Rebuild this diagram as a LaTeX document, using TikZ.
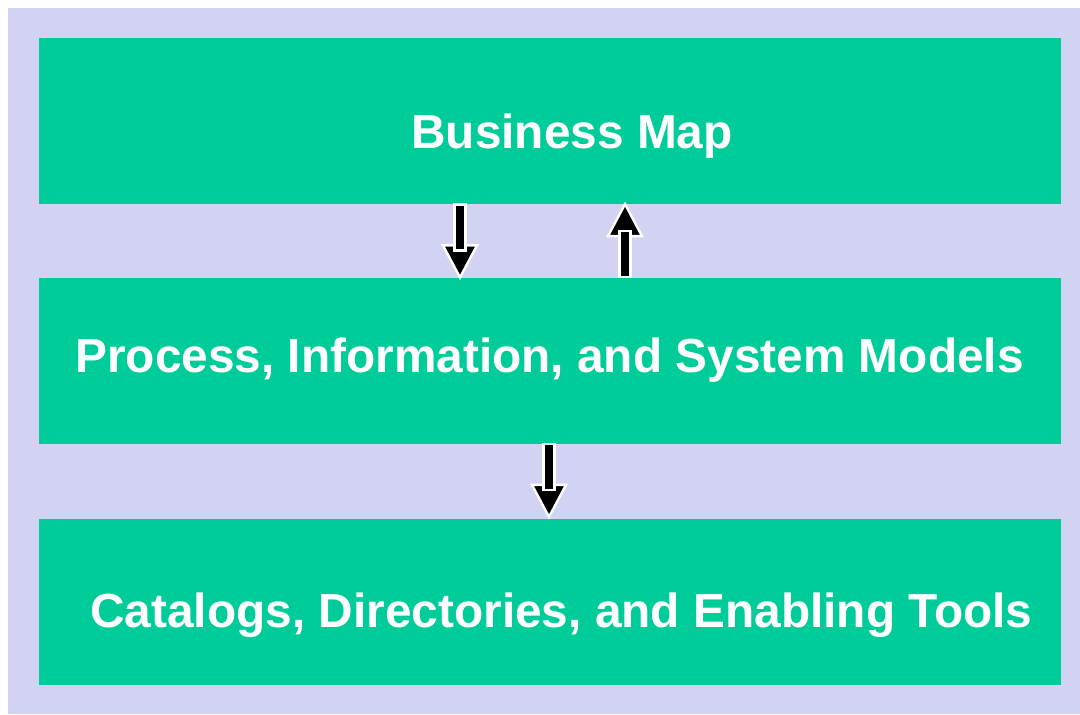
\documentclass[tikz,border=0pt]{standalone}
\usepackage{fontspec}
\setsansfont{Liberation Sans}
\definecolor{lavender}{RGB}{210,210,242}
\definecolor{sea}{RGB}{0,204,153}
\tikzset{
    blockarrow/.pic={
        \filldraw[fill=black,draw=white,line width=1.2pt] (-17,41) -- (17,41) -- (0,73) -- cycle;
        \filldraw[fill=black,draw=white,line width=1.2pt] (-5.5,0) rectangle (5.5,46);
    }
}
\begin{document}
\begin{tikzpicture}[
    x=0.5pt,y=-0.5pt,
    layer/.style={fill=sea,inner sep=0pt,minimum width=511pt,minimum height=83pt},
    lbl/.style={anchor=base west,inner sep=0pt,text=white,font=\sffamily\bfseries\fontsize{23.9pt}{28pt}\selectfont}
]
\useasboundingbox (0,0) rectangle (1080,714);
\fill[lavender] (8,8) rectangle (1080,714);
% three layers
\node[layer] (biz) at (550,121) {};
\node[layer] (models) at (550,360.5) {};
\node[layer] (tools) at (550,602) {};
\node[lbl] (bizlbl) at (411,148) {Business Map};
\node[lbl] (modelslbl) at (75,372) {Process, Information, and System Models};
\node[lbl] (toolslbl) at (90,627) {Catalogs, Directories, and Enabling Tools};
% arrows between layers
\pic at (biz.south -| 460,0) {blockarrow};
\pic[rotate=180] at (models.north -| 625,0) {blockarrow};
\pic at (models.south -| 549,0) {blockarrow};
\end{tikzpicture}
\end{document}
